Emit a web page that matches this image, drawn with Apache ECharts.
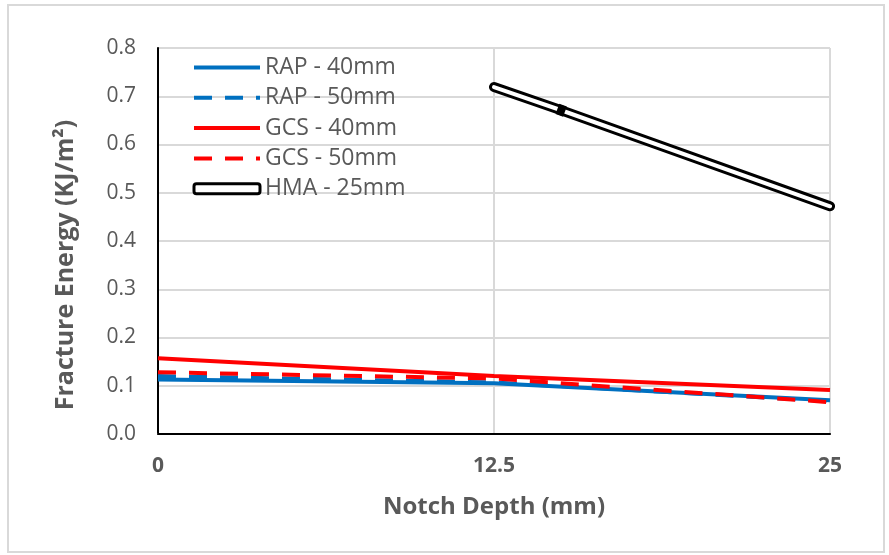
<!DOCTYPE html>
<html>
<head>
<meta charset="utf-8">
<script src="https://cdn.jsdelivr.net/npm/echarts@6/dist/echarts.min.js"></script>
<style>
  html, body { margin: 0; padding: 0; background: #fff; }
  #chart { width: 889px; height: 555px; }
</style>
</head>
<body>
<div id="chart"></div>
<script>
// Notch depths (mm) and x-axis tick labels
const notchDepths = [0, 12.5, 25];
const xTicks = [0, 12.5, 25];
const yTicks = [0, 0.1, 0.2, 0.3, 0.4, 0.5, 0.6, 0.7, 0.8];

// Fracture energy (KJ/m²) per mix
const rap40 = [0.113, 0.105, 0.070];
const rap50 = [0.120, 0.107, 0.068];
const gcs40 = [0.157, 0.120, 0.091];
const gcs50 = [0.128, 0.115, 0.066];
const hmaDepths = [12.5, 15, 25];
const hma25 = [0.719, 0.671, 0.472];

const seriesNames = ['RAP - 40mm', 'RAP - 50mm', 'GCS - 40mm', 'GCS - 50mm', 'HMA - 25mm'];

const BLUE = '#0070C0';
const RED = '#FF0000';
const TEXT = '#595959';
const FONT = '"Open Sans", sans-serif';

const pairs = (xs, ys) => xs.map((x, i) => [x, ys[i]]);

function lineSeries(name, values, color, dashed) {
  return {
    name: name,
    type: 'line',
    data: pairs(notchDepths, values),
    symbol: 'none',
    lineStyle: { color: color, width: 4, type: dashed ? [18, 13] : 'solid', cap: 'butt' },
    itemStyle: { color: color },
    z: 3
  };
}

const chart = echarts.init(document.getElementById('chart'));

chart.setOption({
  animation: false,
  backgroundColor: '#ffffff',
  textStyle: { fontFamily: FONT },
  graphic: [{
    type: 'rect',
    shape: { x: 8, y: 5, width: 876, height: 547 },
    style: { fill: 'none', stroke: '#d9d9d9', lineWidth: 2 },
    z: -10
  }],
  grid: { left: 158, right: 59, top: 48, bottom: 121 },
  legend: {
    left: 192,
    top: 56,
    padding: 0,
    orient: 'vertical',
    itemWidth: 66,
    itemHeight: 10,
    itemGap: 7.3,
    itemStyle: { opacity: 0 },
    lineStyle: { width: 4 },
    textStyle: { color: TEXT, fontSize: 23, fontFamily: FONT },
    data: [
      { name: seriesNames[0] },
      { name: seriesNames[1] },
      { name: seriesNames[2] },
      { name: seriesNames[3] },
      { name: seriesNames[4], icon: 'roundRect',
        itemStyle: { opacity: 1, color: '#ffffff', borderColor: '#000000', borderWidth: 3 } }
    ]
  },
  xAxis: [{
    type: 'value',
    min: xTicks[0],
    max: xTicks[xTicks.length - 1],
    interval: xTicks[1] - xTicks[0],
    name: 'Notch Depth (mm)',
    nameLocation: 'middle',
    nameGap: 61,
    nameTextStyle: { color: TEXT, fontSize: 24, fontWeight: 'bold', fontFamily: FONT },
    axisLine: { show: true, lineStyle: { color: '#bfbfbf', width: 2 } },
    axisTick: { show: false },
    axisLabel: { color: TEXT, fontSize: 21, fontWeight: 'bold', margin: 22, fontFamily: FONT,
      formatter: v => String(v) },
    splitLine: { show: true, lineStyle: { color: '#d9d9d9', width: 2 } }
  }, {
    type: 'value',
    position: 'top',
    min: xTicks[0],
    max: xTicks[xTicks.length - 1],
    axisLine: { show: true, lineStyle: { color: '#000000', width: 2 } },
    axisTick: { show: false },
    axisLabel: { show: false },
    splitLine: { show: false }
  }],
  yAxis: [{
    type: 'value',
    min: yTicks[0],
    max: yTicks[yTicks.length - 1],
    interval: 0.1,
    name: 'Fracture Energy (KJ/m²)',
    nameLocation: 'middle',
    nameGap: 80,
    nameTextStyle: { color: TEXT, fontSize: 25, fontWeight: 'bold', fontFamily: FONT,
      padding: [0, 48, 0, 0] },
    axisLine: { show: true, lineStyle: { color: '#bfbfbf', width: 2 } },
    axisTick: { show: false },
    axisLabel: { color: TEXT, fontSize: 21, margin: 22, fontFamily: FONT,
      formatter: v => v.toFixed(1) },
    splitLine: { show: true, lineStyle: { color: '#d9d9d9', width: 2 } }
  }, {
    type: 'value',
    position: 'right',
    min: yTicks[0],
    max: yTicks[yTicks.length - 1],
    axisLine: { show: true, lineStyle: { color: '#000000', width: 2 } },
    axisTick: { show: false },
    axisLabel: { show: false },
    splitLine: { show: false }
  }],
  series: [
    lineSeries(seriesNames[0], rap40, BLUE, false),
    lineSeries(seriesNames[1], rap50, BLUE, true),
    lineSeries(seriesNames[2], gcs40, RED, false),
    lineSeries(seriesNames[3], gcs50, RED, true),
    {
      // outer black stroke of the double line
      name: seriesNames[4],
      type: 'line',
      data: pairs(hmaDepths, hma25),
      symbol: 'none',
      lineStyle: { color: '#000000', width: 10, cap: 'round', join: 'round' },
      itemStyle: { color: '#000000' },
      z: 4
    },
    {
      // white core of the double line, with the joint marker
      name: seriesNames[4],
      type: 'line',
      data: pairs(hmaDepths, hma25).map((p, i) => i === 1
        ? { value: p, symbol: 'rect', symbolSize: [8, 11], symbolRotate: -20,
            itemStyle: { color: '#000000' } }
        : { value: p, symbol: 'none' }),
      showSymbol: true,
      lineStyle: { color: '#ffffff', width: 4, cap: 'round', join: 'round' },
      itemStyle: { color: '#ffffff' },
      z: 5
    }
  ]
});
</script>
</body>
</html>
